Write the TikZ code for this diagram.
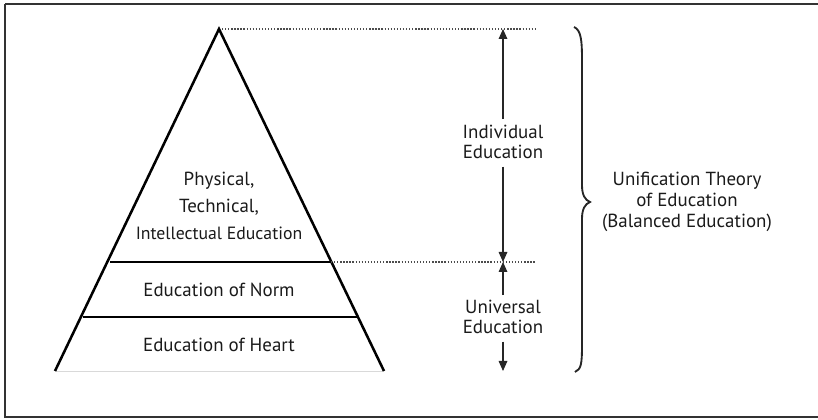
\documentclass[tikz,border=0pt]{standalone}
\usepackage{fontspec}
\setmainfont{PT Sans}
\usetikzlibrary{arrows.meta}
\definecolor{txt}{HTML}{1a1a1a}
\tikzset{
  lbl/.style={text=txt,font=\fontsize{14.2}{15.5}\selectfont,align=center,inner sep=1pt},
  pyr/.style={line width=1.9pt,black},
  dotline/.style={black!70,line width=0.8pt,dash pattern=on 1pt off 1.3pt},
  arr/.style={line width=0.8pt,black!85,-{Triangle[length=7.5pt,width=6.5pt]}},
}
\begin{document}
\begin{tikzpicture}[x=0.75pt,y=-0.75pt]
\useasboundingbox (0,0) rectangle (818,420);
% frame
\draw[line width=1.6pt,black!80] (5,4) -- (830,4) (5,4) -- (5,417) -- (830,417);
% pyramid
\coordinate (apex) at (219,29);
\coordinate (bl) at (55,371);
\coordinate (br) at (384,371);
\coordinate (l1) at (110,262);
\coordinate (r1) at (331,262);
\coordinate (l2) at (83,317);
\coordinate (r2) at (357,317);
\draw[black!15,line width=0.6pt] (bl) -- (br);
\draw[pyr,line join=miter] (bl) -- (apex) -- (br);
\draw[pyr] (l1) -- (r1);
\draw[pyr] (l2) -- (r2);
\node[lbl] (top) at (219,206) {Physical,\\[5pt]Technical,\\[5pt]{\fontsize{13.3}{15}\selectfont Intellectual Education}};
\node[lbl] (norm) at (219,290) {Education of Norm};
\node[lbl] (heart) at (219,345) {Education of Heart};
% dotted guide lines
\coordinate (d1) at (535,29);
\coordinate (d2) at (535,262);
\draw[dotline] (apex) ++(3,0) -- (d1);
\draw[dotline] (r1) -- (d2);
% arrows
\coordinate (a1) at (503,29);
\coordinate (a2) at (503,262);
\coordinate (a3) at (503,371);
\node[lbl] (indiv) at (503,142) {Individual\\Education};
\node[lbl] (univ) at (503,317) {Universal\\Education};
\draw[arr] (indiv.north) ++(0,-4) -- (a1);
\draw[arr] (indiv.south) ++(0,6) -- (a2);
\draw[arr] (univ.north) ++(0,-3) -- (a2);
\draw[arr] (univ.south) ++(0,6) -- (a3);
% brace
\draw[line width=1.4pt,black!85] (574,27) .. controls (581,30) and (582,40) .. (582,60) -- (582,185)
  .. controls (582,195) and (585,200) .. (590,202)
  .. controls (585,204) and (582,209) .. (582,219) -- (582,345)
  .. controls (582,365) and (581,369) .. (575,372);
\coordinate (tip) at (590,202);
\node[lbl] (unif) at (687,202) {Unification Theory\\of Education\\(Balanced Education)};
\end{tikzpicture}
\end{document}
